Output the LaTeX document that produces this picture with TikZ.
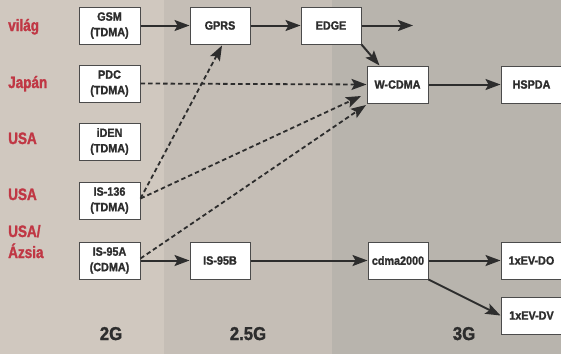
\documentclass[tikz,border=0pt]{standalone}
\usepackage{fontspec}
\setmainfont{Liberation Sans}
\newfontfamily\boxfnt{Liberation Sans}[FakeStretch=0.9, BoldFeatures={FakeBold=1.5}]
\newfontfamily\labfnt{Liberation Sans}[FakeStretch=0.82, BoldFeatures={FakeBold=1.5}]
\usetikzlibrary{arrows.meta,calc}
\definecolor{bandA}{RGB}{208,200,191}
\definecolor{bandB}{RGB}{197,190,182}
\definecolor{bandC}{RGB}{184,180,173}
\definecolor{labred}{RGB}{192,55,68}
\definecolor{ink}{RGB}{45,45,45}
\definecolor{boxline}{RGB}{75,75,75}
\tikzset{
  techbox/.style={draw=boxline, line width=1pt, fill=white, minimum width=61pt, minimum height=37pt,
    inner sep=0pt, align=center, text=ink, font=\boxfnt\bfseries\fontsize{12}{15.5}\selectfont},
  sidelabel/.style={anchor=base west, inner sep=0pt, text=labred, align=left,
    font=\labfnt\bfseries\fontsize{16.5}{21}\selectfont},
  genlabel/.style={anchor=base, inner sep=0pt, text=ink, font=\boxfnt\bfseries\fontsize{18.6}{20}\selectfont},
  solidarrow/.style={draw=ink, line width=2pt, -{Stealth[length=15pt,width=11pt,inset=3pt]}},
  dasharrow/.style={draw=ink, line width=1.8pt, dash pattern=on 4.5pt off 3pt, -{Stealth[length=15pt,width=11pt,inset=3pt]}}
}
\begin{document}
\begin{tikzpicture}[x=1pt,y=-1pt]
\useasboundingbox (0,0) rectangle (561,354);
\fill[bandA] (0,0) rectangle (164,354);
\fill[bandB] (164,0) rectangle (332,354);
\fill[bandC] (332,0) rectangle (561,354);

% side labels
\node[sidelabel] (lvilag) at (8,31) {világ};
\node[sidelabel] (ljapan) at (8,88) {Japán};
\node[sidelabel] (lusa1) at (8,144) {USA};
\node[sidelabel] (lusa2) at (8,200) {USA};
\node[sidelabel] (lusa3) at (8,258) {USA/\\Ázsia};

% boxes
\node[techbox] (GSM) at (109.5,25.5) {GSM\\(TDMA)};
\node[techbox] (PDC) at (109.5,83.5) {PDC\\(TDMA)};
\node[techbox] (iDEN) at (109.5,141.5) {iDEN\\(TDMA)};
\node[techbox] (IS136) at (109.5,200.5) {IS-136\\(TDMA)};
\node[techbox] (IS95A) at (109.5,260.5) {IS-95A\\(CDMA)};
\node[techbox, minimum width=60pt] (GPRS) at (220,25.5) {GPRS};
\node[techbox, minimum width=60pt] (IS95B) at (220,260.5) {IS-95B};
\node[techbox, minimum width=60pt] (EDGE) at (331,25.5) {EDGE};
\node[techbox] (WCDMA) at (397.5,84.5) {W-CDMA};
\node[techbox, minimum width=60pt] (cdma) at (398,260.5) {cdma2000};
\node[techbox] (HSPDA) at (531.5,84.5) {HSPDA};
\node[techbox] (EVDO) at (531.5,260.5) {1xEV-DO};
\node[techbox] (EVDV) at (531.5,315.5) {1xEV-DV};

% generation labels
\node[genlabel] (g2) at (111,340) {2G};
\node[genlabel] (g25) at (248,340) {2.5G};
\node[genlabel] (g3) at (464,340) {3G};

% free ends
\coordinate (edgeout) at (413,25.5);
\coordinate (wtop) at ($(WCDMA.north west)+(13,0)$);
\coordinate (gprsbot) at ($(GPRS.south)+(2,1)$);
\coordinate (w1) at (361,96);
\coordinate (w2) at (366,105);

% solid connectors
\draw[solidarrow] (GSM.east) -- (GPRS.west);
\draw[solidarrow] (GPRS.east) -- (EDGE.west);
\draw[solidarrow] (EDGE.east) -- (edgeout);
\draw[solidarrow] (EDGE.south east) -- (wtop);
\draw[solidarrow] (WCDMA.east) -- (HSPDA.west);
\draw[solidarrow] (IS95A.east) -- (IS95B.west);
\draw[solidarrow] (IS95B.east) -- (cdma.west);
\draw[solidarrow] (cdma.east) -- (EVDO.west);
\draw[solidarrow] (cdma.south east) -- (EVDV.west);

% dashed connectors
\draw[dasharrow] (PDC.east) -- (WCDMA.west);
\draw[dasharrow] ($(IS136.east)+(0,-2)$) -- (gprsbot);
\draw[dasharrow] ($(IS136.east)+(0,-2)$) -- (w1);
\draw[dasharrow] ($(IS95A.east)+(0,-2)$) -- (w2);
\end{tikzpicture}
\end{document}
